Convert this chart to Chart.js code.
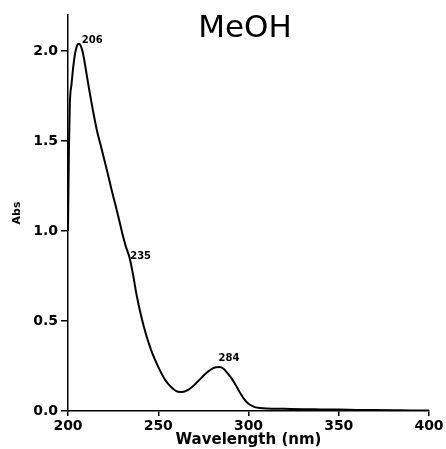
<!DOCTYPE html>
<html>
<head>
<meta charset="utf-8">
<script src="https://cdn.jsdelivr.net/npm/chart.js@4/dist/chart.umd.min.js"></script>
<style>
  html, body { margin: 0; padding: 0; background: #ffffff; }
  canvas { display: block; }
</style>
</head>
<body>
<canvas id="c" width="446" height="449"></canvas>
<script>
// ---- data ----
const chartTitle = "MeOH";
const xAxisTitle = "Wavelength (nm)";
const yAxisTitle = "Abs";
const xTicks = [200, 250, 300, 350, 400];
const yTicks = [0.0, 0.5, 1.0, 1.5, 2.0];

const wavelengths = [
  200, 200.5, 201, 202, 203, 204, 205, 206, 207, 208, 209, 210, 211, 212,
  214, 216, 218, 220, 222, 224, 226, 228, 230, 232, 234, 236, 238, 240,
  242, 244, 246, 248, 250, 252, 254, 256, 258, 260, 262, 264, 266, 268,
  270, 272, 274, 276, 278, 280, 282, 284, 286, 288, 290, 292, 294, 296,
  298, 300, 302, 304, 306, 310, 320, 330, 340, 350, 360, 370, 380, 390, 400
];
const absorbance = [
  1.00, 1.45, 1.70, 1.82, 1.92, 1.99, 2.03, 2.04, 2.03, 2.00, 1.95, 1.89, 1.83, 1.77,
  1.66, 1.56, 1.48, 1.40, 1.32, 1.235, 1.155, 1.075, 0.99, 0.915, 0.855, 0.76, 0.645, 0.55,
  0.47, 0.40, 0.34, 0.29, 0.245, 0.205, 0.17, 0.145, 0.125, 0.11, 0.105, 0.107, 0.115, 0.128,
  0.145, 0.165, 0.185, 0.205, 0.222, 0.236, 0.243, 0.245, 0.236, 0.215, 0.19, 0.16, 0.125, 0.09,
  0.06, 0.04, 0.028, 0.02, 0.017, 0.014, 0.012, 0.010, 0.009, 0.008, 0.006, 0.005, 0.004, 0.003, 0.003
];

const peakWavelengths = [206, 235, 284];
const peakLabels = ["206", "235", "284"];

// ---- styles ----
const FONT = '"DejaVu Sans", "Liberation Sans", sans-serif';
const peakLabelOffsets = [[3, -3], [-1, -9], [-1, -8]];

function valueAt(w) {
  for (let i = 0; i < wavelengths.length - 1; i++) {
    if (w >= wavelengths[i] && w <= wavelengths[i + 1]) {
      const t = (w - wavelengths[i]) / (wavelengths[i + 1] - wavelengths[i]);
      return absorbance[i] + t * (absorbance[i + 1] - absorbance[i]);
    }
  }
  return absorbance[absorbance.length - 1];
}

const annotatePlugin = {
  id: 'annotate',
  afterDraw(chart) {
    const ctx = chart.ctx;
    const xs = chart.scales.x, ys = chart.scales.y;
    ctx.save();
    ctx.fillStyle = '#000';
    ctx.font = 'bold 10px ' + FONT;
    ctx.textAlign = 'left';
    ctx.textBaseline = 'middle';
    peakWavelengths.forEach((w, i) => {
      const px = xs.getPixelForValue(w);
      const py = ys.getPixelForValue(valueAt(w));
      ctx.fillText(peakLabels[i], px + peakLabelOffsets[i][0], py + peakLabelOffsets[i][1]);
    });
    ctx.font = '31px ' + FONT;
    ctx.textAlign = 'center';
    ctx.textBaseline = 'alphabetic';
    ctx.fillText(chartTitle, 245, 37);
    ctx.restore();
  }
};

new Chart(document.getElementById('c'), {
  type: 'line',
  data: {
    datasets: [{
      data: wavelengths.map((w, i) => ({ x: w, y: absorbance[i] })),
      borderColor: '#000',
      borderWidth: 2,
      pointRadius: 0,
      fill: false,
      cubicInterpolationMode: 'monotone'
    }]
  },
  options: {
    responsive: false,
    animation: false,
    layout: { padding: { left: 0, right: 17, top: 15, bottom: 0 } },
    plugins: { legend: { display: false }, tooltip: { enabled: false }, title: { display: false } },
    scales: {
      x: {
        type: 'linear',
        min: xTicks[0],
        max: xTicks[xTicks.length - 1],
        afterBuildTicks: (s) => { s.ticks = xTicks.map(v => ({ value: v })); },
        afterFit: (s) => { s.height = 38; },
        ticks: {
          color: '#000',
          font: { family: FONT, size: 14, weight: 'bold' },
          padding: 2,
          maxRotation: 0,
          callback: (v) => String(v)
        },
        grid: { drawOnChartArea: false, drawTicks: true, tickLength: 5, color: '#000', lineWidth: 1.5 },
        border: { display: true, color: '#000', width: 1.5 },
        title: {
          display: true, text: xAxisTitle, color: '#000',
          font: { family: FONT, size: 15, weight: 'bold' },
          padding: { top: 0, bottom: 0 }
        }
      },
      y: {
        type: 'linear',
        min: 0,
        max: 2.2,
        afterBuildTicks: (s) => { s.ticks = yTicks.map(v => ({ value: v })); },
        afterFit: (s) => { s.width = 68; },
        ticks: {
          color: '#000',
          font: { family: FONT, size: 14, weight: 'bold' },
          padding: 3,
          callback: (v) => Number(v).toFixed(1)
        },
        grid: { drawOnChartArea: false, drawTicks: true, tickLength: 7, color: '#000', lineWidth: 1.5 },
        border: { display: true, color: '#000', width: 1.5 },
        title: {
          display: true, text: yAxisTitle, color: '#000',
          font: { family: FONT, size: 11, weight: 'bold' },
          padding: { top: 11, bottom: 0 }
        }
      }
    }
  },
  plugins: [annotatePlugin]
});
</script>
</body>
</html>
